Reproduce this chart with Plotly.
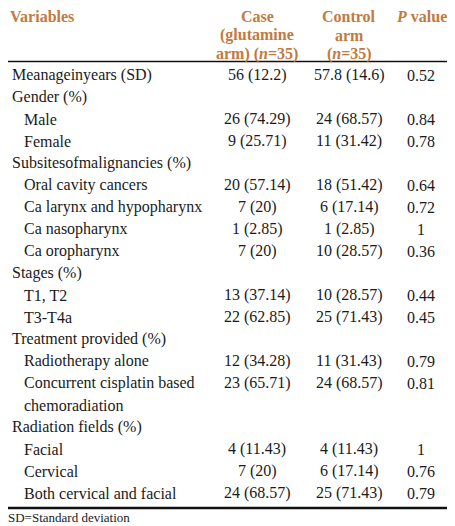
import plotly.graph_objects as go

# ---- data ----
variables = [
    "Meanageinyears (SD)", "Gender (%)", "Male", "Female",
    "Subsitesofmalignancies (%)", "Oral cavity cancers", "Ca larynx and hypopharynx",
    "Ca nasopharynx", "Ca oropharynx", "Stages (%)", "T1, T2", "T3-T4a",
    "Treatment provided (%)", "Radiotherapy alone",
    "Concurrent cisplatin based<br>chemoradiation",
    "Radiation fields (%)", "Facial", "Cervical", "Both cervical and facial",
]
levels = [0, 0, 1, 1, 0, 1, 1, 1, 1, 0, 1, 1, 0, 1, 1, 0, 1, 1, 1]
case_vals = ["56 (12.2)", "", "26 (74.29)", "9 (25.71)", "", "20 (57.14)", "7 (20)",
             "1 (2.85)", "7 (20)", "", "13 (37.14)", "22 (62.85)", "", "12 (34.28)",
             "23 (65.71)", "", "4 (11.43)", "7 (20)", "24 (68.57)"]
control_vals = ["57.8 (14.6)", "", "24 (68.57)", "11 (31.42)", "", "18 (51.42)", "6 (17.14)",
                "1 (2.85)", "10 (28.57)", "", "10 (28.57)", "25 (71.43)", "", "11 (31.43)",
                "24 (68.57)", "", "4 (11.43)", "6 (17.14)", "25 (71.43)"]
p_vals = ["0.52", "", "0.84", "0.78", "", "0.64", "0.72", "1", "0.36", "", "0.44", "0.45",
          "", "0.79", "0.81", "", "1", "0.76", "0.79"]
headers = ["Variables", "Case<br>(glutamine<br>arm) (<i>n</i>=35)",
           "Control<br>arm<br>(<i>n</i>=35)", "<i>P</i> value"]
footnote = "SD=Standard deviation"

# ---- layout constants (page pixels) ----
# the page body adds an 8px margin, so the figure is drawn 8px smaller and shifted
OFF = 8
W, H = 455 - OFF, 526 - OFF
FONT = "Liberation Serif"
HEAD_COLOR = "#c27a3e"
TXT = "#1a1a1a"
col_x = [10, 257, 349, 421]
indent_x = [10, 22]
row0, pitch = 75, 22
head_y = [16, 35, 54]

fig = go.Figure()
ann = []

# header
for j, h in enumerate(headers):
    for k, line in enumerate(h.split("<br>")):
        ann.append(dict(x=col_x[j] - OFF, y=head_y[k] - OFF, text="<b>" + line + "</b>",
                        xanchor="left" if j == 0 else "center", yanchor="middle",
                        borderpad=0, borderwidth=0,
                        font=dict(family=FONT, size=16, color=HEAD_COLOR)))

# body
line_i = 0
for v, lv, c, ct, p in zip(variables, levels, case_vals, control_vals, p_vals):
    y = row0 + pitch * line_i - OFF
    parts = v.split("<br>")
    for k, part in enumerate(parts):
        ann.append(dict(x=indent_x[lv] - OFF, y=y + pitch * k, text=part,
                        xanchor="left", yanchor="middle",
                        font=dict(family=FONT, size=16, color=TXT)))
    for xx, val in zip(col_x[1:], [c, ct, p]):
        if val:
            ann.append(dict(x=xx - OFF, y=y, text=val, xanchor="center", yanchor="middle",
                            font=dict(family=FONT, size=16, color=TXT)))
    line_i += len(parts)

ann.append(dict(x=8 - OFF, y=517 - OFF, text=footnote, xanchor="left", yanchor="middle",
                borderpad=0, borderwidth=0,
                font=dict(family=FONT, size=13, color=TXT)))

for a in ann:
    a.update(xref="x", yref="y", showarrow=False)

shapes = [
    dict(type="line", x0=-10, x1=W + 10, y0=61.5 - OFF, y1=61.5 - OFF,
         line=dict(color="#111111", width=1.5)),
    dict(type="line", x0=-10, x1=W + 10, y0=508 - OFF, y1=508 - OFF,
         line=dict(color="#111111", width=2.5)),
]
for s in shapes:
    s.update(xref="x", yref="y")

fig.update_layout(
    width=W, height=H, margin=dict(l=0, r=0, t=0, b=0),
    paper_bgcolor="white", plot_bgcolor="white",
    xaxis=dict(range=[0, W], visible=False, fixedrange=True),
    yaxis=dict(range=[H, 0], visible=False, fixedrange=True),
    annotations=ann, shapes=shapes, showlegend=False,
)
fig.write_html("out.html")
